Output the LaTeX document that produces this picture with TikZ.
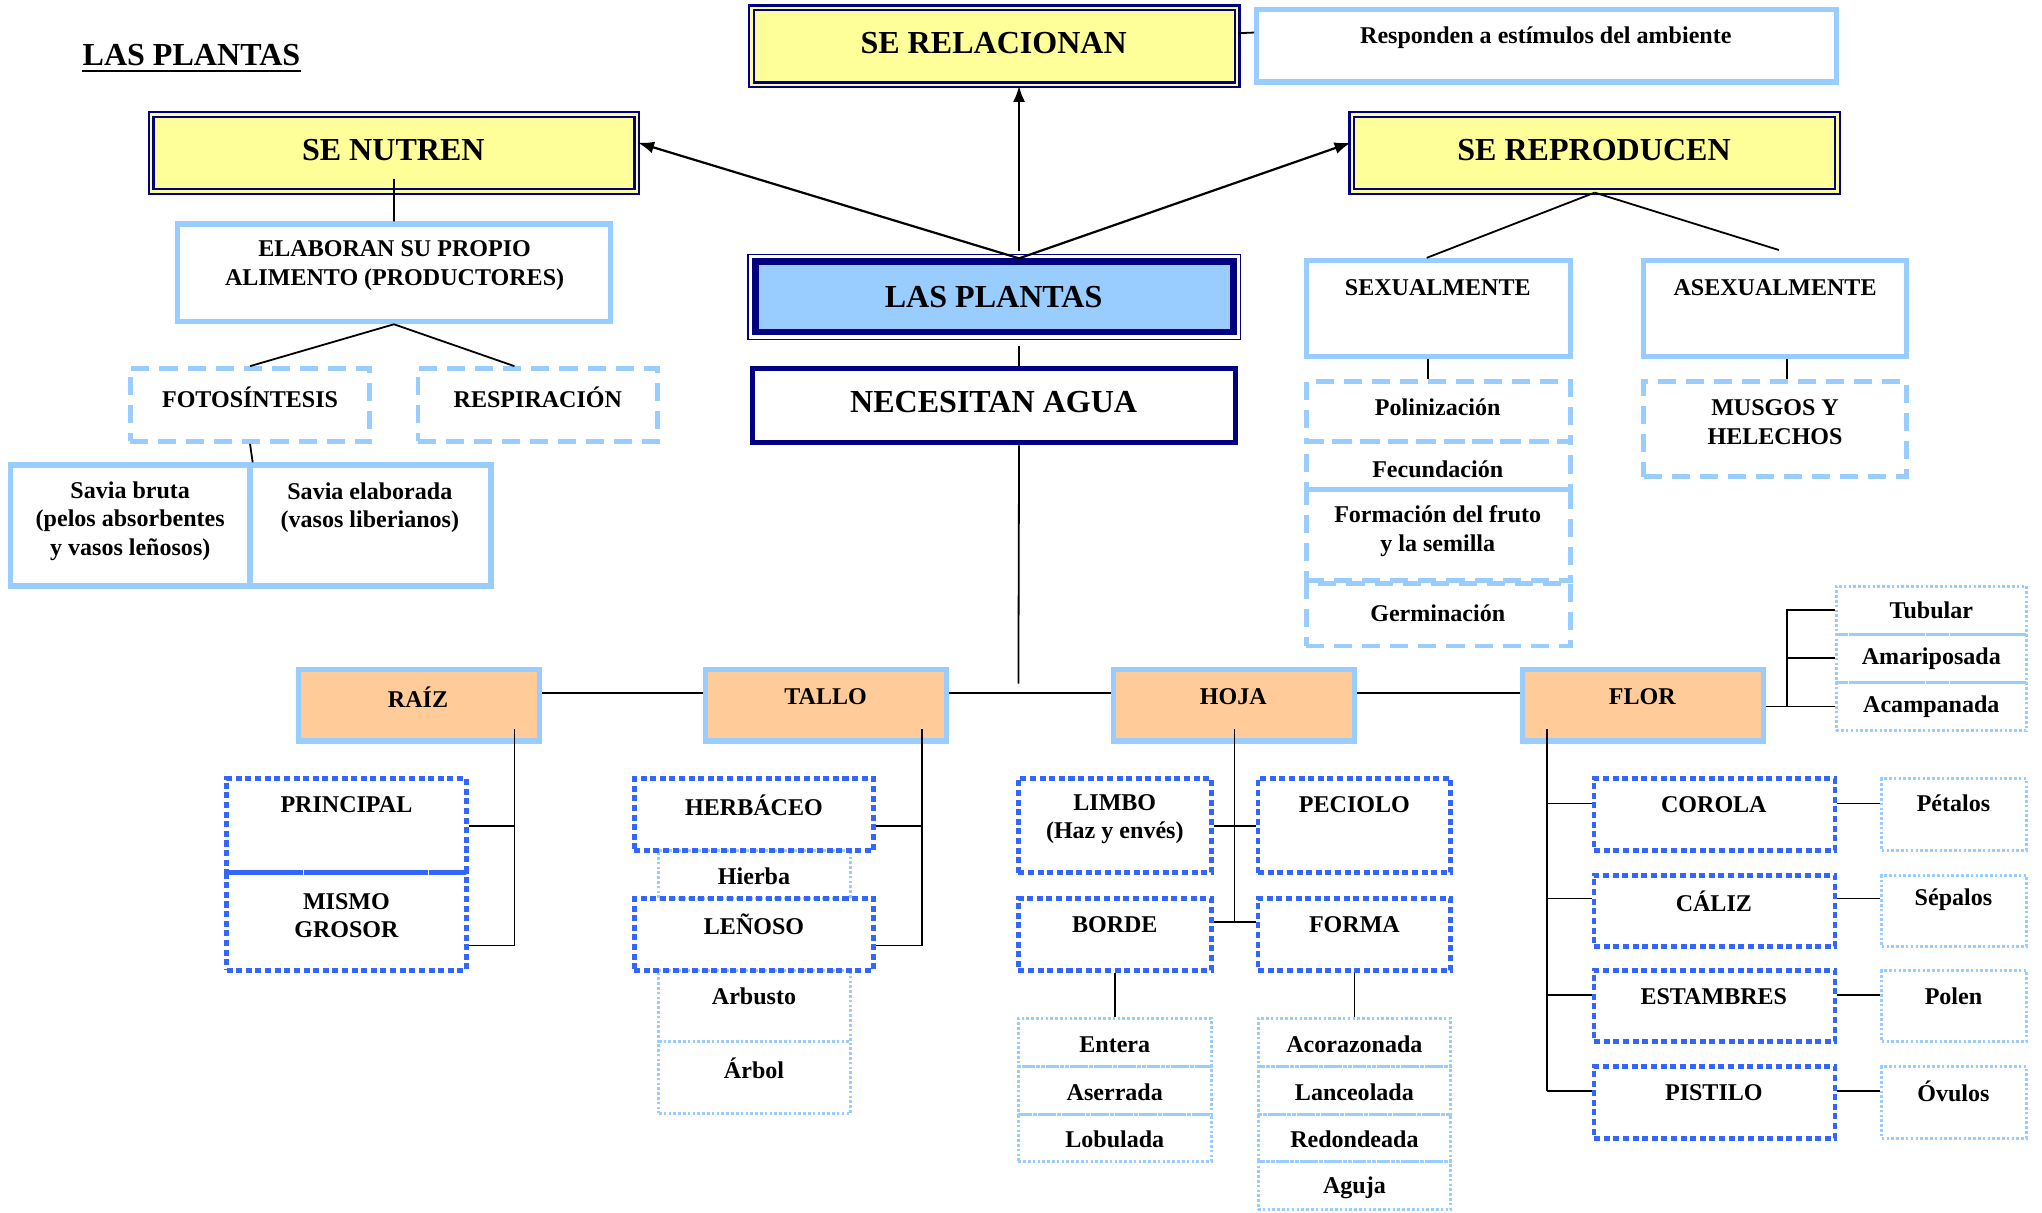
\documentclass[tikz,border=0pt]{standalone}
\usepackage{fontspec}
\setmainfont{Liberation Serif}
\usetikzlibrary{arrows.meta,calc}
\definecolor{navyb}{HTML}{000080}
\definecolor{lblue}{HTML}{99CCFF}
\definecolor{yel}{HTML}{FFFF99}
\definecolor{orng}{HTML}{FFCC99}
\definecolor{dblue}{HTML}{3366FF}
\newcommand\mybox[6]{\node[#6, inner sep=0pt, minimum width={(#4-#2)*0.65pt}, minimum height={(#5-#3)*0.65pt}] (#1) at ({(#2+#4)/2},{(#3+#5)/2}) {};}
\begin{document}
\begin{tikzpicture}[x=0.65pt,y=-0.65pt,
  big/.style={font=\bfseries\fontsize{16}{19}\selectfont, inner sep=0pt, align=center},
  sm/.style={font=\bfseries\fontsize{12}{14.2}\selectfont, inner sep=0pt, align=center},
  ln/.style={line width=0.9pt, black},
  arr/.style={line width=1.1pt, black, -{Latex[length=8pt,width=6pt]}},
  yelbox/.style={draw=navyb, fill=yel, line width=1.2pt, double=yel, double distance=1.1pt},
  lpbox/.style={draw=navyb, fill=lblue, line width=3.4pt},
  necbox/.style={draw=navyb, fill=white, line width=2.5pt},
  sbox/.style={draw=lblue, fill=white, line width=2.6pt},
  obox/.style={draw=lblue, fill=orng, line width=2.6pt},
  dbox/.style={draw=lblue, line width=2.4pt, dash pattern=on 9pt off 5pt},
  bbox/.style={draw=dblue, line width=2.4pt, dash pattern=on 3pt off 1.8pt},
  lbox/.style={draw=lblue, line width=1.5pt, dash pattern=on 1.3pt off 1.1pt}]
\useasboundingbox (0,0) rectangle (1568,931);
% title
\node[big, anchor=base] (title) at (147,50) {LAS PLANTAS};
\draw[line width=1.3pt] ([yshift=-2.5pt]title.south west) -- ([yshift=-2.5pt]title.south east);
% top boxes
\mybox{rel}{577}{6}{950}{65}{yelbox}
\mybox{estim}{965}{7}{1410}{63}{sbox}
\mybox{nut}{116}{88}{489}{147}{yelbox}
\mybox{rep}{1038}{88}{1411}{147}{yelbox}
\mybox{lp}{580}{201}{947}{255}{lpbox}
\draw[navyb, line width=0.6pt] ($(lp.north west)+(-2pt,2pt)$) rectangle ($(lp.south east)+(2pt,-2pt)$);
\mybox{nec}{578}{283}{949}{340}{necbox}
\mybox{elab}{136}{172}{469}{247}{sbox}
\mybox{foto}{100}{283}{284}{339}{dbox}
\mybox{resp}{321}{283}{505}{339}{dbox}
\mybox{sb}{8}{357}{192}{450}{sbox}
\mybox{se}{192}{357}{377}{450}{sbox}
\mybox{sex}{1003}{200}{1206}{274}{sbox}
\mybox{asex}{1262}{200}{1464}{274}{sbox}
\mybox{pol}{1003}{293}{1206}{339}{dbox}
\mybox{fec}{1003}{339}{1206}{376}{dbox}
\mybox{frut}{1003}{376}{1206}{446}{dbox}
\mybox{ger}{1003}{448}{1206}{496}{dbox}
\mybox{mus}{1262}{293}{1464}{366}{dbox}
% main row
\mybox{raiz}{229}{514}{414}{569}{obox}
\mybox{tallo}{542}{514}{727}{569}{obox}
\mybox{hoja}{855}{514}{1040}{569}{obox}
\mybox{flor}{1169}{514}{1354}{569}{obox}
\mybox{tub}{1410}{450}{1556}{487}{lbox}
\mybox{ama}{1410}{487}{1556}{524}{lbox}
\mybox{aca}{1410}{524}{1556}{561}{lbox}
% raiz
\mybox{prin}{174}{598}{358}{670}{bbox}
\mybox{mis}{174}{670}{358}{745}{bbox}
% tallo
\mybox{hie}{506}{653}{653}{690}{lbox}
\mybox{arb}{506}{745}{653}{800}{lbox}
\mybox{arl}{506}{800}{653}{855}{lbox}
\mybox{her}{487}{598}{671}{653}{bbox}
\mybox{len}{487}{690}{671}{745}{bbox}
% hoja
\mybox{lim}{782}{598}{930}{670}{bbox}
\mybox{pec}{966}{598}{1114}{670}{bbox}
\mybox{bor}{782}{690}{930}{745}{bbox}
\mybox{frm}{966}{690}{1114}{745}{bbox}
\mybox{ent}{782}{782}{930}{819}{lbox}
\mybox{ase}{782}{819}{930}{856}{lbox}
\mybox{lob}{782}{856}{930}{892}{lbox}
\mybox{aco}{966}{782}{1114}{819}{lbox}
\mybox{lan}{966}{819}{1114}{856}{lbox}
\mybox{rdn}{966}{856}{1114}{892}{lbox}
\mybox{agu}{966}{892}{1114}{929}{lbox}
% flor
\mybox{cor}{1224}{598}{1409}{653}{bbox}
\mybox{cal}{1224}{672}{1409}{727}{bbox}
\mybox{est}{1224}{745}{1409}{800}{bbox}
\mybox{pis}{1224}{819}{1409}{874}{bbox}
\mybox{pet}{1445}{598}{1556}{653}{lbox}
\mybox{sep}{1445}{672}{1556}{727}{lbox}
\mybox{pln}{1445}{745}{1556}{800}{lbox}
\mybox{ovu}{1445}{819}{1556}{874}{lbox}
% texts
\node[big] (t-rel) at (763,33) {SE RELACIONAN};
\node[sm] (t-estim) at (1187,29) {Responden a estímulos del ambiente};
\node[big] (t-nut) at (302,115) {SE NUTREN};
\node[big] (t-rep) at (1224,115) {SE REPRODUCEN};
\node[big] (t-lp) at (763,228) {LAS PLANTAS};
\node[big] (t-nec) at (763,309) {NECESITAN AGUA};
\node[sm] (t-elab) at (303,204) {ELABORAN SU PROPIO\\ALIMENTO (PRODUCTORES)};
\node[sm] (t-foto) at (192,305) {FOTOSÍNTESIS};
\node[sm] (t-resp) at (413,305) {RESPIRACIÓN};
\node[sm] (t-sb) at (100,400) {Savia bruta\\(pelos absorbentes\\y vasos leñosos)};
\node[sm] (t-se) at (284,390) {Savia elaborada\\(vasos liberianos)};
\node[sm] (t-sex) at (1104,221) {SEXUALMENTE};
\node[sm] (t-asex) at (1363,221) {ASEXUALMENTE};
\node[sm] (t-pol) at (1104,313) {Polinización};
\node[sm] (t-fec) at (1104,360) {Fecundación};
\node[sm] (t-frut) at (1104,408) {Formación del fruto\\y la semilla};
\node[sm] (t-ger) at (1104,471) {Germinación};
\node[sm] (t-mus) at (1363,324) {MUSGOS Y\\HELECHOS};
\node[sm] (t-raiz) at (321,535) {RAÍZ};
\node[sm] (t-tallo) at (634,535) {TALLO};
\node[sm] (t-hoja) at (947,535) {HOJA};
\node[sm] (t-flor) at (1261,535) {FLOR};
\node[sm] (t-tub) at (1483,469) {Tubular};
\node[sm] (t-ama) at (1483,506) {Amariposada};
\node[sm] (t-aca) at (1483,543) {Acampanada};
\node[sm] (t-prin) at (266,618) {PRINCIPAL};
\node[sm] (t-mis) at (266,703) {MISMO\\GROSOR};
\node[sm] (t-her) at (579,618) {HERBÁCEO};
\node[sm] (t-hie) at (579,673) {Hierba};
\node[sm] (t-len) at (579,710) {LEÑOSO};
\node[sm] (t-arb) at (579,765) {Arbusto};
\node[sm] (t-arl) at (579,820) {Árbol};
\node[sm] (t-lim) at (856,629) {LIMBO\\(Haz y envés)};
\node[sm] (t-pec) at (1040,618) {PECIOLO};
\node[sm] (t-bor) at (856,710) {BORDE};
\node[sm] (t-frm) at (1040,710) {FORMA};
\node[sm] (t-ent) at (856,802) {Entera};
\node[sm] (t-ase) at (856,839) {Aserrada};
\node[sm] (t-lob) at (856,875) {Lobulada};
\node[sm] (t-aco) at (1040,802) {Acorazonada};
\node[sm] (t-lan) at (1040,839) {Lanceolada};
\node[sm] (t-rdn) at (1040,875) {Redondeada};
\node[sm] (t-agu) at (1040,912) {Aguja};
\node[sm] (t-cor) at (1316,618) {COROLA};
\node[sm] (t-cal) at (1316,692) {CÁLIZ};
\node[sm] (t-est) at (1316,765) {ESTAMBRES};
\node[sm] (t-pis) at (1316,839) {PISTILO};
\node[sm] (t-pet) at (1500,617) {Pétalos};
\node[sm] (t-sep) at (1500,691) {Sépalos};
\node[sm] (t-pln) at (1500,765) {Polen};
\node[sm] (t-ovu) at (1500,838) {Óvulos};
% connectors top
\coordinate (lptop) at ($(lp.north)+(19,0)$);
\draw[arr] (lptop) -- ($(nut.north east)!0.37!(nut.south east)$);
\draw[arr] ($(lptop)+(0,-6)$) -- (rel.south -| lptop);
\draw[arr] (lptop) -- ($(rep.north west)!0.37!(rep.south west)$);
\draw[ln] ($(rel.east)+(0,-10)$) -- ($(estim.west)+(0,-10)$);
\draw[ln] ($(nut.center)!0.65!(nut.south)$) -- (elab.north);
\draw[ln] (elab.south) -- (foto.north);
\draw[ln] (elab.south) -- ($(resp.north)+(-18,0)$);
\draw[ln] (foto.south) -- (sb.north east);
\draw[ln] (rep.south) -- ($(sex.north)+(-9,0)$);
\draw[ln] (rep.south) -- ($(asex.north)+(3,-6)$);
\draw[ln] ($(sex.south)+(-8,0)$) -- ($(pol.north)+(-8,0)$);
\draw[ln] ($(asex.south)+(9,0)$) -- ($(mus.north)+(9,0)$);
\draw[ln] ($(lp.south)+(19,8)$) -- ($(nec.north)+(19,0)$);
\coordinate (jn) at (782,525);
\draw[ln] ($(nec.south)+(19,0)$) -- (jn);
% main row
\draw[ln] ($(raiz.east)+(0,-9.5)$) -- ($(tallo.west)+(0,-9.5)$);
\draw[ln] ($(tallo.east)+(0,-9.5)$) -- ($(hoja.west)+(0,-9.5)$);
\draw[ln] ($(hoja.east)+(0,-9.5)$) -- ($(flor.west)+(0,-9.5)$);
\coordinate (fk) at (1372,542.5);
\draw[ln] (flor.east |- fk) -- (fk) -- (fk |- tub.west) -- (tub.west);
\draw[ln] (fk |- ama.west) -- (ama.west);
\draw[ln] (fk) -- (aca.west |- fk);
% raiz
\coordinate (rk) at (395,560);
\draw[ln] (rk) -- (395,726) -- (mis.east |- 0,726);
\draw[ln] (395,634) -- (prin.east);
% tallo
\coordinate (tk) at (708,560);
\draw[ln] (tk) -- (708,726) -- (len.east |- 0,726);
\draw[ln] (708,634) -- (her.east |- 0,634);
% hoja
\coordinate (hk) at (948,560);
\draw[ln] (hk) -- (948,708);
\draw[ln] (lim.east |- 0,634) -- (pec.west |- 0,634);
\draw[ln] (bor.east |- 0,708) -- (frm.west |- 0,708);
\draw[ln] (bor.south) -- (ent.north);
\draw[ln] (frm.south) -- (aco.north);
% flor
\coordinate (flk) at (1188,560);
\draw[ln] (flk) -- (1188,838);
\foreach \a/\b/\yy in {cor/pet/617, cal/sep/690, est/pln/764, pis/ovu/838}{
  \draw[ln] (1188,\yy) -- (\a.west |- 0,\yy);
  \draw[ln] (\a.east |- 0,\yy) -- (\b.west |- 0,\yy);
}
\end{tikzpicture}
\end{document}
